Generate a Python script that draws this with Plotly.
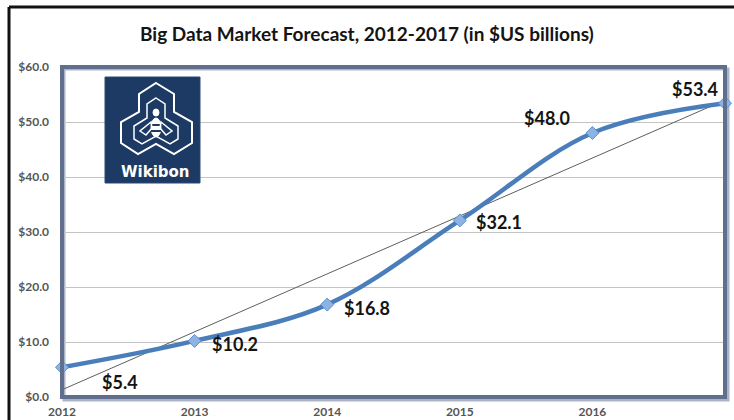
import numpy as np
import plotly.graph_objects as go

years = [2012, 2013, 2014, 2015, 2016, 2017]
values = [5.4, 10.2, 16.8, 32.1, 48.0, 53.4]
labels = ["$5.4", "$10.2", "$16.8", "$32.1", "$48.0", "$53.4"]
y_ticks = [0, 10, 20, 30, 40, 50, 60]
y_tick_text = ["$0.0", "$10.0", "$20.0", "$30.0", "$40.0", "$50.0", "$60.0"]
title = "Big Data Market Forecast, 2012-2017 (in $US billions)"

# label offsets (pixels) relative to each point
label_anchor = ["left", "left", "left", "left", "right", "right"]
label_dx = [38, 15, 15, 14, -20, -5]
label_dy = [-15, -3, -3, -2, 15, 14]

W, H = 734, 420
L, R, T, B = 62, 9, 67, 23
PW, PH = W - L - R, H - T - B


def px(x, y):
    return (x - L) / PW, (H - B - y) / PH


# linear trendline from the data
coef = np.polyfit(np.array(years) - years[0], values, 1)
trend_y = list(np.polyval(coef, np.array([years[0], years[-1]]) - years[0]))

fig = go.Figure()
fig.add_trace(go.Scatter(
    x=[years[0], years[-1]], y=trend_y, mode="lines",
    line=dict(color="#5e5e5e", width=1), hoverinfo="skip", cliponaxis=False))
fig.add_trace(go.Scatter(
    x=years, y=values, mode="lines+markers",
    line=dict(color="#4a7ebb", width=4.5, shape="spline", smoothing=1),
    marker=dict(symbol="diamond", size=10, color="#8db3e2",
                line=dict(color="#5d8fcf", width=1)),
    cliponaxis=False))

for x, v, t, a, dx, dy in zip(years, values, labels, label_anchor, label_dx, label_dy):
    fig.add_annotation(x=x, y=v, text=t, showarrow=False, xanchor=a, yanchor="middle",
                       xshift=dx, yshift=dy,
                       font=dict(family="Lato", size=18, color="#141414", weight="bold"))

shapes = []
# plot frame with shadow
shapes.append(dict(type="rect", xref="paper", yref="paper", x0=px(64, 0)[0], x1=px(728, 0)[0],
                   y0=px(0, 400)[1], y1=px(0, 69)[1],
                   line=dict(color="#aab4c6", width=3), layer="below"))
shapes.append(dict(type="rect", xref="paper", yref="paper", x0=0, x1=1, y0=0, y1=1,
                   line=dict(color="#5f6f8d", width=4), layer="above"))
# outer black border
x0b, y0b = px(9, 7)
shapes.append(dict(type="line", xref="paper", yref="paper", x0=x0b, x1=x0b, y0=y0b, y1=px(0, 425)[1],
                   line=dict(color="#111111", width=3)))
shapes.append(dict(type="line", xref="paper", yref="paper", x0=x0b, x1=px(740, 0)[0], y0=y0b, y1=y0b,
                   line=dict(color="#111111", width=3)))
# logo box
lx0, ly0 = px(105, 183)
lx1, ly1 = px(200, 77)
shapes.append(dict(type="rect", xref="paper", yref="paper", x0=lx0, x1=lx1, y0=ly0, y1=ly1,
                   fillcolor="#1c3a63", line=dict(color="#2a4a75", width=1), layer="above"))


def path(points, close=True):
    s = ""
    for i, (x, y) in enumerate(points):
        xp, yp = px(x, y)
        s += ("M" if i == 0 else "L") + f"{xp:.5f},{yp:.5f} "
    return s + ("Z" if close else "")


outline = [(156, 83), (174, 94), (174, 112), (192, 122), (192, 143), (174, 154), (156, 144),
           (138, 154), (121, 143), (121, 122), (139, 112), (139, 94)]
shapes.append(dict(type="path", xref="paper", yref="paper", path=path(outline),
                   line=dict(color="white", width=2), layer="above"))
inner = [(156, 98), (165, 104), (165, 118), (178, 126), (178, 139), (170, 144), (156, 136),
         (142, 144), (134, 139), (134, 126), (147, 118), (147, 104)]
shapes.append(dict(type="path", xref="paper", yref="paper", path=path(inner),
                   line=dict(color="white", width=1.5), layer="above"))
# bee
bx0, by0 = px(151, 118)
bx1, by1 = px(161, 137)
shapes.append(dict(type="circle", xref="paper", yref="paper", x0=bx0, x1=bx1, y0=by0, y1=by1,
                   fillcolor="white", line=dict(color="white", width=1), layer="above"))
hx0, hy0 = px(153, 109)
hx1, hy1 = px(159, 116)
shapes.append(dict(type="circle", xref="paper", yref="paper", x0=hx0, x1=hx1, y0=hy0, y1=hy1,
                   fillcolor="white", line=dict(color="white", width=1), layer="above"))
for yy in (125, 131):
    a0 = px(151, yy)
    a1 = px(161, yy)
    shapes.append(dict(type="line", xref="paper", yref="paper", x0=a0[0], x1=a1[0], y0=a0[1], y1=a1[1],
                       line=dict(color="#1c3a63", width=2), layer="above"))
shapes.append(dict(type="path", xref="paper", yref="paper",
                   path=path([(151, 122), (140, 131), (146, 135), (152, 128)]),
                   line=dict(color="white", width=1.5), layer="above"))
shapes.append(dict(type="path", xref="paper", yref="paper",
                   path=path([(161, 122), (172, 131), (166, 135), (160, 128)]),
                   line=dict(color="white", width=1.5), layer="above"))

wx, wy = px(155, 172)
fig.add_annotation(xref="paper", yref="paper", x=wx, y=wy, text="Wikibon", showarrow=False,
                   xanchor="center", yanchor="middle",
                   font=dict(family="DejaVu Sans", size=15, color="white", weight="bold"))

tx, ty = px(367, 33)
fig.add_annotation(xref="paper", yref="paper", x=tx, y=ty, text=title, showarrow=False,
                   xanchor="center", yanchor="middle",
                   font=dict(family="Lato", size=19, color="#141414", weight="bold"))

fig.update_layout(
    width=W, height=H, margin=dict(l=L, r=R, t=T, b=B, autoexpand=False),
    paper_bgcolor="white", plot_bgcolor="white", showlegend=False,
    shapes=shapes,
    xaxis=dict(range=[years[0], years[-1]], tickmode="array", tickvals=years,
               ticktext=[str(y) for y in years], showgrid=False, zeroline=False,
               ticks="", ticklabelstandoff=6, automargin=False,
               tickfont=dict(family="Lato", size=12, color="#555555", weight="bold"),
               showline=False, fixedrange=True),
    yaxis=dict(range=[0, 60], tickmode="array", tickvals=y_ticks, ticktext=y_tick_text,
               showgrid=True, gridcolor="#c4c4c4", gridwidth=1, zeroline=False, ticks="",
               ticklabelstandoff=12, automargin=False,
               tickfont=dict(family="Lato", size=12, color="#555555", weight="bold"),
               showline=False, fixedrange=True),
)

fig.write_html("out.html")
